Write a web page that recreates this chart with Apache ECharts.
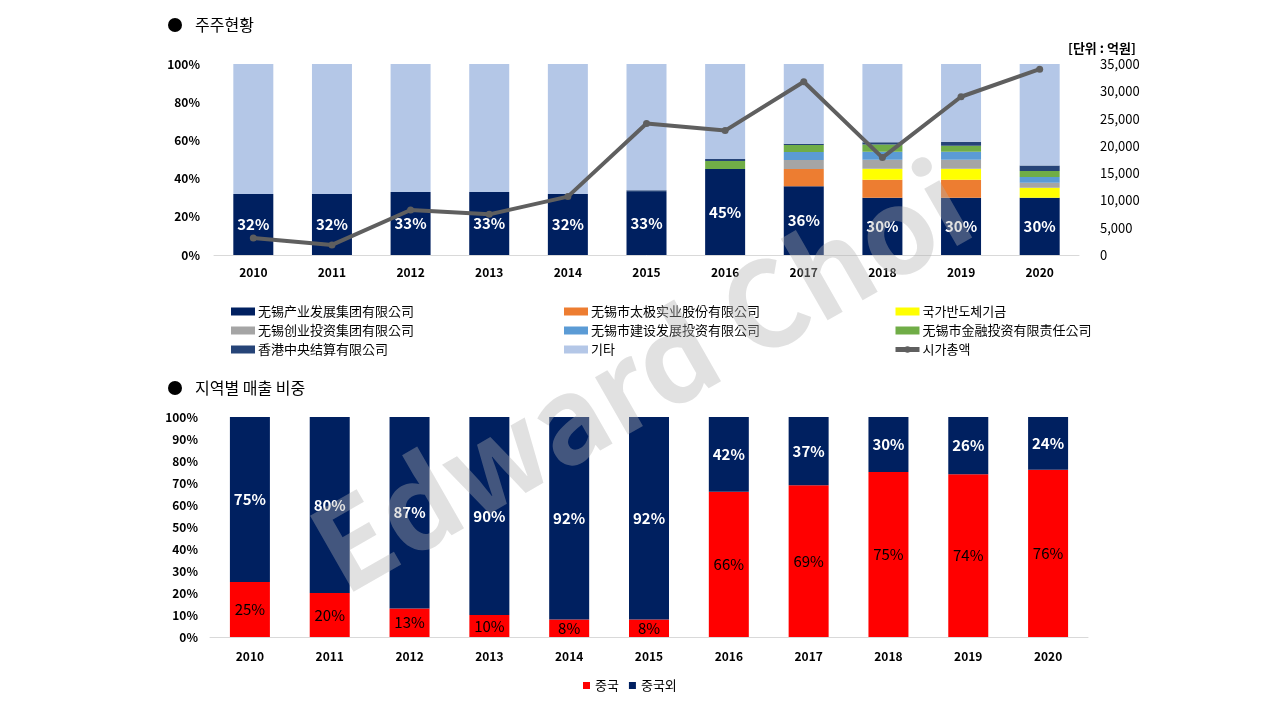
<!DOCTYPE html>
<html>
<head>
<meta charset="utf-8">
<title>주주현황 / 지역별 매출 비중</title>
<script src="https://cdn.jsdelivr.net/npm/echarts@6/dist/echarts.min.js"></script>
<style>
    html, body { margin: 0; padding: 0; background: #fff; }
    #main { width: 1280px; height: 720px; }
</style>
</head>
<body>
<div id="main"></div>
<script>
var years = ['2010','2011','2012','2013','2014','2015','2016','2017','2018','2019','2020'];

// 주주현황 (%)
var wuxiIndustry = [32, 32, 33, 33, 32, 33, 45, 36, 30, 30, 30];
var taiji       = [0, 0, 0, 0, 0, 0, 0, 9, 9.4, 9.4, 0];
var bigFund     = [0, 0, 0, 0, 0, 0, 0, 0, 5.8, 5.8, 5.2];
var wuxiVenture = [0, 0, 0, 0, 0, 0, 0, 4.7, 4.7, 4.7, 2.6];
var wuxiConstr  = [0, 0, 0, 0, 0, 0, 0, 4.2, 4.2, 4.2, 3.1];
var wuxiFinance = [0, 0, 0, 0, 0, 0, 4.2, 3.7, 3.7, 3.1, 3.1];
var hkClearing  = [0, 0, 0, 0, 0, 0.9, 1, 0.7, 1.2, 2.1, 2.8];
var others      = [68, 68, 67, 67, 68, 66.1, 49.8, 41.7, 41, 40.7, 53.2];
// 시가총액 (억원)
var marketCap   = [3100, 1850, 8250, 7450, 10700, 24100, 22800, 31750, 17850, 29000, 34050];

var leftTicks  = [0, 20, 40, 60, 80, 100];
var rightTicks = [0, 5000, 10000, 15000, 20000, 25000, 30000, 35000];

// 지역별 매출 비중 (%)
var china    = [25, 20, 13, 10, 8, 8, 66, 69, 75, 74, 76];
var nonChina = [75, 80, 87, 90, 92, 92, 42, 37, 30, 26, 24];

var FONT = '"Noto Sans CJK KR", "Noto Sans", sans-serif';

function stackBar(name, data, color, withLabel) {
    var s = {
        name: name,
        type: 'bar',
        stack: 'share',
        xAxisIndex: 0,
        yAxisIndex: 0,
        barWidth: 40,
        itemStyle: { color: color },
        data: data
    };
    if (withLabel) {
        s.label = {
            show: true,
            position: 'inside',
            color: '#fff',
            fontWeight: 'bold',
            fontSize: 15,
            fontFamily: FONT,
            formatter: function (p) { return Math.round(p.value) + '%'; }
        };
    }
    return s;
}

function shareLegend(left, names) {
    var items = names.map(function (n) {
        return n === '시가총액' ? { name: n } : { name: n, icon: 'rect' };
    });
    return {
        orient: 'vertical', left: left, top: 300,
        itemWidth: 24, itemHeight: 8, itemGap: 6,
        lineStyle: { width: 5 },
        textStyle: { fontSize: 13, color: '#000', fontFamily: FONT, padding: [0, 0, 0, -2] },
        data: items
    };
}

var option = {
    animation: false,
    textStyle: { fontFamily: FONT },
    legend: [
        shareLegend(226, ['无锡产业发展集团有限公司', '无锡创业投资集团有限公司', '香港中央结算有限公司']),
        shareLegend(559, ['无锡市太极实业股份有限公司', '无锡市建设发展投资有限公司', '기타']),
        shareLegend(888, ['국가반도체기금', '无锡市金融投资有限责任公司', '시가총액']),
        { left: 578, top: 674, itemWidth: 7, itemHeight: 7, itemGap: 10, icon: 'rect',
          textStyle: { fontSize: 13, color: '#000', fontFamily: FONT },
          data: ['중국', '중국외'] }
    ],
    grid: [
        { left: 214, right: 201, top: 64, bottom: 465 },
        { left: 210, right: 192, top: 417, bottom: 83 }
    ],
    xAxis: [
        { type: 'category', gridIndex: 0, data: years,
          axisLine: { lineStyle: { color: '#D9D9D9', width: 1 } },
          axisTick: { show: false },
          axisLabel: { color: '#000', fontWeight: 'bold', fontSize: 12, margin: 11, fontFamily: FONT } },
        { type: 'category', gridIndex: 1, data: years,
          axisLine: { lineStyle: { color: '#D9D9D9', width: 1 } },
          axisTick: { show: false },
          axisLabel: { color: '#000', fontWeight: 'bold', fontSize: 12, margin: 13, fontFamily: FONT } }
    ],
    yAxis: [
        { type: 'value', gridIndex: 0, min: leftTicks[0], max: leftTicks[leftTicks.length - 1], interval: 20,
          splitLine: { show: false }, axisLine: { show: false }, axisTick: { show: false },
          axisLabel: { color: '#000', fontWeight: 'bold', fontSize: 12, margin: 14, fontFamily: FONT,
                       formatter: '{value}%' } },
        { type: 'value', gridIndex: 0, position: 'right', min: rightTicks[0],
          max: rightTicks[rightTicks.length - 1], interval: 5000,
          splitLine: { show: false }, axisLine: { show: false }, axisTick: { show: false },
          axisLabel: { color: '#000', fontSize: 13, margin: 21, fontFamily: FONT,
                       formatter: function (v) { return v.toLocaleString('en-US'); } } },
        { type: 'value', gridIndex: 1, min: 0, max: 100, interval: 10,
          splitLine: { show: false }, axisLine: { show: false }, axisTick: { show: false },
          axisLabel: { color: '#000', fontWeight: 'bold', fontSize: 12, margin: 12, fontFamily: FONT,
                       formatter: '{value}%' } }
    ],
    series: [
        stackBar('无锡产业发展集团有限公司', wuxiIndustry, '#002060', true),
        stackBar('无锡市太极实业股份有限公司', taiji, '#ED7D31'),
        stackBar('국가반도체기금', bigFund, '#FFFF00'),
        stackBar('无锡创业投资集团有限公司', wuxiVenture, '#A5A5A5'),
        stackBar('无锡市建设发展投资有限公司', wuxiConstr, '#5B9BD5'),
        stackBar('无锡市金融投资有限责任公司', wuxiFinance, '#70AD47'),
        stackBar('香港中央结算有限公司', hkClearing, '#264478'),
        stackBar('기타', others, '#B4C7E7'),
        {
            name: '시가총액',
            type: 'line',
            xAxisIndex: 0,
            yAxisIndex: 1,
            data: marketCap,
            symbol: 'circle',
            symbolSize: 7,
            z: 5,
            lineStyle: { color: '#5F5F5F', width: 4 },
            itemStyle: { color: '#5F5F5F' }
        },
        {
            name: '중국',
            type: 'bar',
            stack: 'region',
            xAxisIndex: 1,
            yAxisIndex: 2,
            barWidth: 40,
            itemStyle: { color: '#FF0000' },
            label: { show: true, position: 'inside', color: '#000', fontSize: 15, fontFamily: FONT,
                     formatter: '{c}%' },
            data: china
        },
        {
            name: '중국외',
            type: 'bar',
            stack: 'region',
            xAxisIndex: 1,
            yAxisIndex: 2,
            barWidth: 40,
            clip: true,
            itemStyle: { color: '#002060' },
            label: { show: true, position: 'inside', color: '#fff', fontWeight: 'bold', fontSize: 15,
                     fontFamily: FONT, formatter: '{c}%' },
            data: nonChina
        }
    ],
    graphic: [
        // section titles
        { type: 'circle', shape: { cx: 175, cy: 25, r: 7 }, style: { fill: '#000' } },
        { type: 'text', x: 195, y: 25,
          style: { text: '주주현황', verticalAlign: 'middle', font: '16px ' + FONT, fill: '#000' } },
        { type: 'circle', shape: { cx: 175, cy: 388, r: 7 }, style: { fill: '#000' } },
        { type: 'text', x: 195, y: 388,
          style: { text: '지역별 매출 비중', verticalAlign: 'middle', font: '16px ' + FONT, fill: '#000' } },
        { type: 'text', x: 1068, y: 48,
          style: { text: '[단위 : 억원]', verticalAlign: 'middle', font: 'bold 13px ' + FONT, fill: '#000' } },
        // watermark
        { type: 'text', x: 640, y: 376, rotation: 0.52, z: 100,
          style: { text: 'Edward Choi', align: 'center', verticalAlign: 'middle',
                   font: 'bold 118px ' + FONT, fill: 'rgba(175,175,175,0.38)' } }
    ]
};

var chart = echarts.init(document.getElementById('main'));
chart.setOption(option);
</script>
</body>
</html>
